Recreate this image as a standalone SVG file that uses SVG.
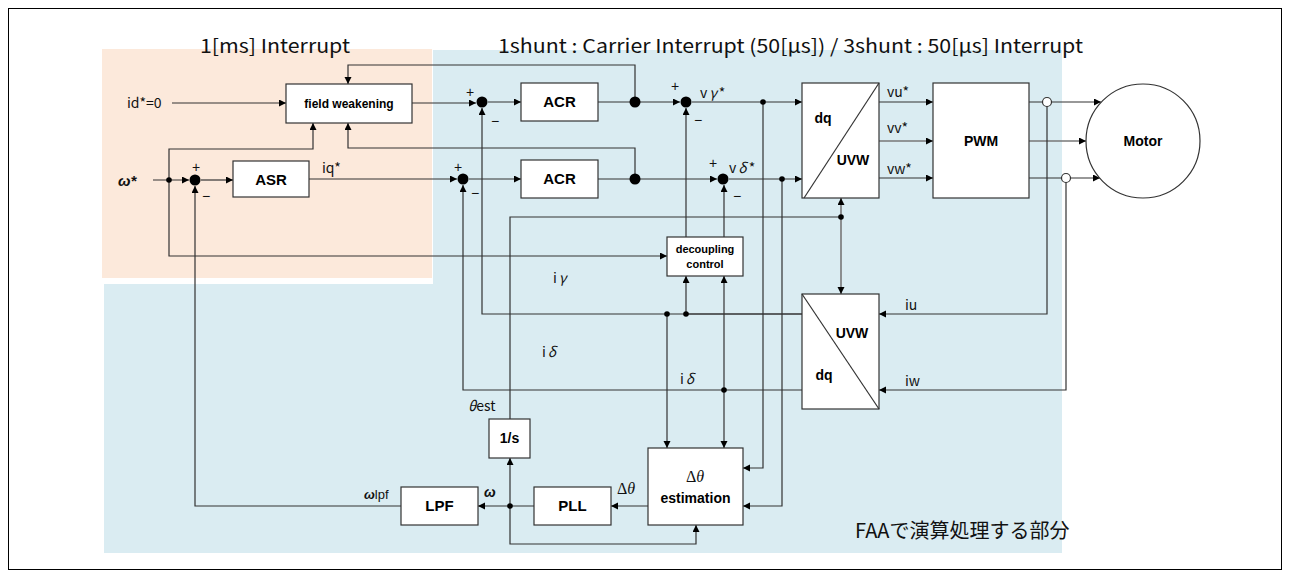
<svg xmlns="http://www.w3.org/2000/svg" width="1290" height="577" viewBox="0 0 1290 577">
<style>
.box{fill:#fff;stroke:#333;stroke-width:1.2}
.ln{fill:none;stroke:#333;stroke-width:1.2}
.lg{fill:none;stroke:#777;stroke-width:1.6}
.ar{marker-end:url(#ah)}
.bl{font-family:"Liberation Sans",Arial,sans-serif;font-weight:bold;fill:#000;text-anchor:middle}
.lb{font-family:"Noto Sans CJK JP","Liberation Sans",sans-serif;fill:#111;font-size:14px}
.sg{font-family:"Liberation Sans",Arial,sans-serif;fill:#111;font-size:14px;text-anchor:middle}
.dot{fill:#000}
</style>
<defs>
<marker id="ah" markerWidth="8" markerHeight="8" refX="7" refY="3.5" orient="auto" markerUnits="userSpaceOnUse">
<path d="M0,0 L7,3.5 L0,7 z" fill="#000"/>
</marker>
</defs>
<rect x="0" y="0" width="1290" height="577" fill="#fff"/>
<rect x="8.5" y="8.5" width="1273" height="561" fill="none" stroke="#000" stroke-width="1"/>
<g id="regions">
<rect x="102" y="49" width="330" height="229" fill="#FCE9DB"/>
<rect x="433" y="50" width="629" height="503" fill="#DAECF2"/>
<rect x="104" y="284" width="330" height="269" fill="#DAECF2"/>
</g>
<g id="titles">
<text x="200" y="53" font-family="'Noto Sans CJK JP',sans-serif" font-size="19" textLength="150" lengthAdjust="spacingAndGlyphs" fill="#111">1[ms] Interrupt</text>
<text x="498" y="53" font-family="'Noto Sans CJK JP',sans-serif" font-size="19" textLength="585" lengthAdjust="spacingAndGlyphs" fill="#111">1shunt : Carrier Interrupt (50[μs]) / 3shunt : 50[μs]  Interrupt</text>
<text x="855" y="538" font-family="'Noto Sans CJK JP',sans-serif" font-size="20" fill="#111">FAAで演算処理する部分</text>
</g>
<g id="connectors">
<path class="ln ar" d="M172,103 H286"/>
<path class="ln ar" d="M153,180 H189"/>
<path class="ln ar" d="M169,180 V149 H313 V123"/>
<path class="ln ar" d="M169,180 V256 H667"/>
<path class="ln ar" d="M201,180 H233"/>
<path class="ln ar" d="M401,506 H195 V186"/>
<path class="ln ar" d="M309,179 H457"/>
<path class="ln ar" d="M412,103 H476"/>
<path class="ln ar" d="M488,102 H521"/>
<path class="ln ar" d="M469,179 H521"/>
<path class="ln ar" d="M598,102 H680"/>
<path class="ln ar" d="M598,179 H717"/>
<path class="ln ar" d="M635,102 V65 H348 V84"/>
<path class="ln ar" d="M635,179 V148 H348 V123"/>
<path class="ln ar" d="M692,102 H802"/>
<path class="ln ar" d="M729,179 H802"/>
<path class="ln ar" d="M686,237 V108"/>
<path class="ln ar" d="M724,237 V185"/>
<path class="ln ar" d="M802,314 H482 V108"/>
<path class="ln" d="M686,314 H802" stroke-width="2"/>
<path class="ln ar" d="M686,314 V276"/>
<path class="ln ar" d="M667,314 V448"/>
<path class="ln ar" d="M802,390 H463 V185"/>
<path class="ln ar" d="M724,390 V276"/>
<path class="ln ar" d="M724,390 V448"/>
<path class="ln ar" d="M763,102 V468 H743"/>
<path class="ln ar" d="M782,179 V506 H743"/>
<path class="ln ar" d="M648,506 H611"/>
<path class="ln ar" d="M534,506 H478"/>
<path class="ln ar" d="M510,506 V458"/>
<path class="ln ar" d="M510,506 V544 H696 V525"/>
<path class="ln" d="M510,419 V217 H841"/>
<path class="lg ar" d="M841,217 V198"/>
<path class="lg ar" d="M841,217 V294"/>
<path class="ln ar" d="M879,102 H933"/>
<path class="lg ar" d="M879,141 H933"/>
<path class="ln ar" d="M879,178 H933"/>
<path class="ln ar" d="M1029,102 H1101"/>
<path class="lg ar" d="M1029,141 H1086"/>
<path class="ln ar" d="M1029,178 H1100"/>
<path class="ln ar" d="M1047,106 V314 H879"/>
<path class="ln ar" d="M1066,182 V390 H879"/>
<circle class="dot" cx="169" cy="180" r="2.8"/>
<circle class="dot" cx="635" cy="102" r="5.5"/>
<circle class="dot" cx="635" cy="179" r="5.5"/>
<circle class="dot" cx="763" cy="102" r="2.8"/>
<circle class="dot" cx="782" cy="179" r="2.8"/>
<circle class="dot" cx="667" cy="314" r="2.8"/>
<circle class="dot" cx="686" cy="314" r="2.8"/>
<circle class="dot" cx="724" cy="390" r="2.8"/>
<circle class="dot" cx="510" cy="506" r="2.8"/>
<circle class="dot" cx="841" cy="217" r="2.8"/>
<circle cx="1047" cy="102" r="4.5" fill="#fff" stroke="#333" stroke-width="1.2"/>
<circle cx="1066" cy="178" r="4.5" fill="#fff" stroke="#333" stroke-width="1.2"/>
</g>
<g id="sum1"><circle class="dot" cx="195" cy="180" r="5.5"/><text class="sg" x="196" y="172">+</text><text class="sg" x="206" y="201">−</text></g>
<g id="sum2"><circle class="dot" cx="482" cy="102" r="5.5"/><text class="sg" x="470" y="97">+</text><text class="sg" x="495" y="126">−</text></g>
<g id="sum3"><circle class="dot" cx="463" cy="179" r="5.5"/><text class="sg" x="458" y="172">+</text><text class="sg" x="475" y="198">−</text></g>
<g id="sum4"><circle class="dot" cx="686" cy="102" r="5.5"/><text class="sg" x="675" y="91">+</text><text class="sg" x="698" y="125">−</text></g>
<g id="sum5"><circle class="dot" cx="723" cy="179" r="5.5"/><text class="sg" x="713" y="168">+</text><text class="sg" x="737" y="201">−</text></g>
<g id="field-weakening"><rect class="box" x="286" y="84" width="126" height="39"/><text class="bl" x="349" y="108" font-size="12">field weakening</text></g>
<g id="asr"><rect class="box" x="233" y="161" width="76" height="36"/><text class="bl" x="271" y="185" font-size="15">ASR</text></g>
<g id="acr1"><rect class="box" x="521" y="83" width="77" height="38"/><text class="bl" x="559.5" y="107" font-size="15">ACR</text></g>
<g id="acr2"><rect class="box" x="521" y="160" width="77" height="38"/><text class="bl" x="559.5" y="184" font-size="15">ACR</text></g>
<g id="dq-uvw"><rect class="box" x="802" y="83" width="77" height="115"/><path class="ln" d="M879,83 L804,198"/><text class="bl" x="823" y="123" font-size="14">dq</text><text class="bl" x="853" y="165" font-size="14">UVW</text></g>
<g id="pwm"><rect class="box" x="933" y="83" width="96" height="115"/><text class="bl" x="981" y="146" font-size="14">PWM</text></g>
<g id="motor"><circle cx="1143" cy="141" r="57" fill="#fff" stroke="#333" stroke-width="1.2"/><text class="bl" x="1143" y="146" font-size="14">Motor</text></g>
<g id="decoupling"><rect class="box" x="667" y="237" width="76" height="39"/><text class="bl" x="705" y="253" font-size="11">decoupling</text><text class="bl" x="705" y="268" font-size="11">control</text></g>
<g id="uvw-dq"><rect class="box" x="802" y="294" width="77" height="115"/><path class="ln" d="M802,294 L879,409"/><text class="bl" x="852" y="338" font-size="14">UVW</text><text class="bl" x="824" y="380" font-size="14">dq</text></g>
<g id="integrator"><rect class="box" x="489" y="419" width="41" height="39"/><text class="bl" x="509.5" y="443" font-size="14">1/s</text></g>
<g id="estimation"><rect class="box" x="648" y="448" width="95" height="77"/><text x="695" y="482" font-family="'Liberation Serif',serif" font-size="16" fill="#111" text-anchor="middle">Δ<tspan font-style="italic">θ</tspan></text><text class="bl" x="695.5" y="503" font-size="14">estimation</text></g>
<g id="pll"><rect class="box" x="534" y="487" width="77" height="38"/><text class="bl" x="572.5" y="511" font-size="15">PLL</text></g>
<g id="lpf"><rect class="box" x="401" y="487" width="77" height="38"/><text class="bl" x="439.5" y="511" font-size="15">LPF</text></g>
<g id="labels">
<text class="lb" x="127" y="108">id*=0</text>
<text x="118" y="186" font-family="'Liberation Sans',sans-serif" font-weight="bold" font-style="italic" font-size="15" fill="#111">ω*</text>
<text class="lb" x="322" y="173">iq*</text>
<text class="lb" x="700" y="98" letter-spacing="2">v<tspan font-style="italic">γ</tspan>*</text>
<text class="lb" x="729" y="173" letter-spacing="2">v<tspan font-style="italic">δ</tspan>*</text>
<text class="lb" x="887" y="97">vu*</text>
<text class="lb" x="887" y="133">vv*</text>
<text class="lb" x="887" y="174">vw*</text>
<text class="lb" x="553" y="283" letter-spacing="2">i<tspan font-style="italic">γ</tspan></text>
<text class="lb" x="542" y="357" letter-spacing="2">i<tspan font-style="italic">δ</tspan></text>
<text class="lb" x="680" y="384" letter-spacing="2">i<tspan font-style="italic">δ</tspan></text>
<text class="lb" x="905" y="310">iu</text>
<text class="lb" x="905" y="386">iw</text>
<text class="lb" x="468" y="411"><tspan font-style="italic">θ</tspan>est</text>
<text x="364" y="499" font-family="'Liberation Sans',sans-serif" font-size="13" fill="#111"><tspan font-weight="bold" font-style="italic">ω</tspan>lpf</text>
<text x="484" y="497" font-family="'Liberation Sans',sans-serif" font-weight="bold" font-style="italic" font-size="14" fill="#111">ω</text>
<text x="617" y="494" font-family="'Liberation Serif',serif" font-size="16" fill="#111">Δ<tspan font-style="italic">θ</tspan></text>
</g>
</svg>
